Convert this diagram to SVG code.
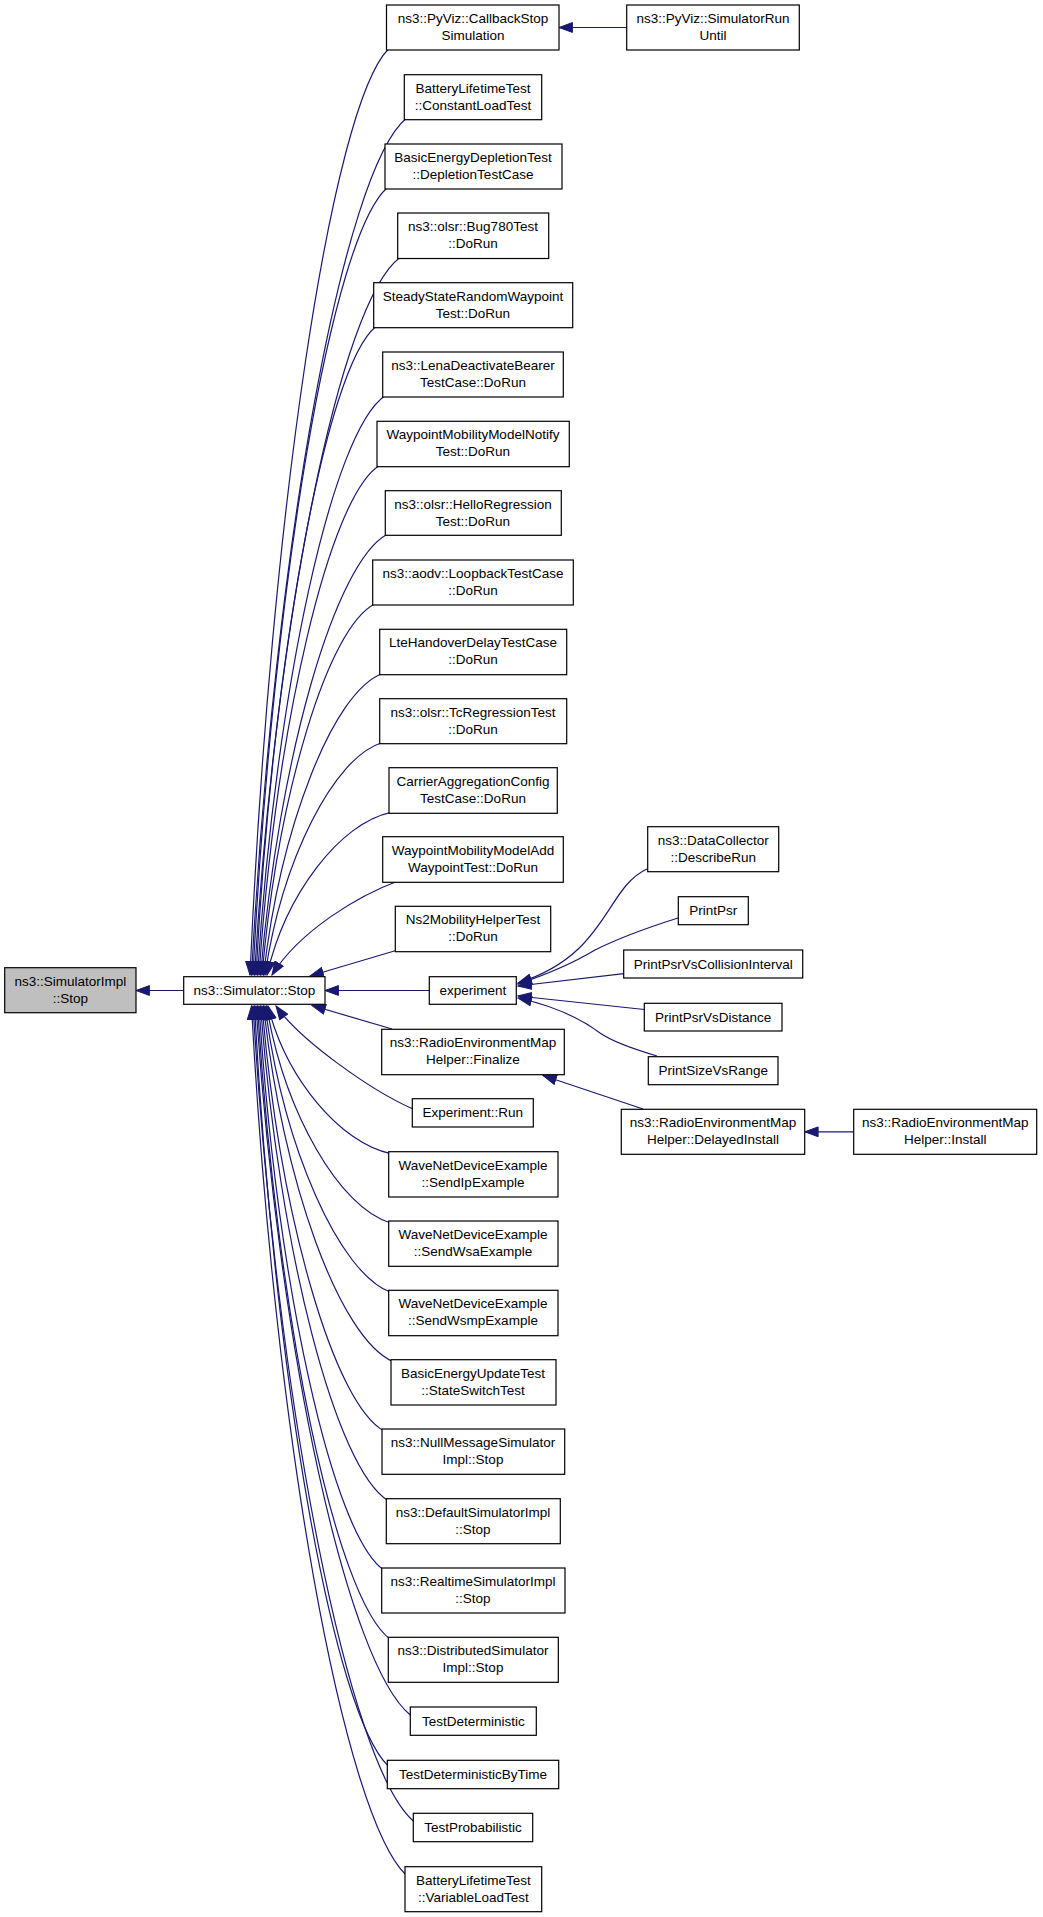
<svg xmlns="http://www.w3.org/2000/svg" width="1043" height="1917" viewBox="0 0 1043 1917">
<style>
.n rect{fill:#fff;stroke:#000;stroke-width:1.2}
.n.g rect{fill:#bfbfbf}
text{font-family:"Liberation Sans",Arial,Helvetica,sans-serif;font-size:13.5px;text-anchor:middle;fill:#000}
.e path{fill:none;stroke:#191970;stroke-width:1.2;marker-end:url(#ah)}
</style>
<defs>
<marker id="ah" markerUnits="userSpaceOnUse" markerWidth="15" markerHeight="11" viewBox="0 0 15 11" refX="14" refY="5.5" orient="auto">
<path d="M0.6,0.6 L14,5.5 L0.6,10.4 Z" fill="#191970" stroke="#191970" stroke-width="1"/>
</marker>
</defs>
<rect width="1043" height="1917" fill="#fff"/>
<g id="edges" class="e">
<path d="M183.7,990.5 L136,990.5"/>
<path d="M626.7,27.5 L559,27.5"/>
<path d="M429.3,990.5 L325,990.5"/>
<path d="M853.7,1131.8 L804.7,1131.8"/>
<path d="M643,1109 L543,1075.5"/>
<path d="M647,869 C605,888 608,955 518,983"/>
<path d="M678,918 C640,930 615,940 595,950 C570,965 545,975 518,984"/>
<path d="M623.7,973.7 L518,986"/>
<path d="M644.3,1009.5 L518,996"/>
<path d="M657,1056 C630,1048 610,1040 600,1033 C580,1018 550,1005 518,998"/>
<path d="M388.5,49 C331.9,105.5 270.5,512.5 250,975"/>
<path d="M406.3,118.3 C343.2,170.6 274.4,547.2 251.5,975"/>
<path d="M387,188 C332.2,236.2 272.8,582 253,975"/>
<path d="M399.7,257.7 C340.4,301.7 276,616.9 254.5,975"/>
<path d="M375.7,326.7 C326.6,366.5 273.7,651.4 256,975"/>
<path d="M384.7,396 C332.6,431.7 276.3,686 257.5,975"/>
<path d="M379,465.7 C329.8,497.2 276.7,720.9 259,975"/>
<path d="M387.3,534.3 C335.4,561.7 279.2,755.2 260.5,975"/>
<path d="M374.7,604 C328.4,627.2 278.6,790 262,975"/>
<path d="M381.7,673.7 C333.2,692.7 280.9,824.9 263.5,975"/>
<path d="M381.7,742.7 C333.8,757.6 282.2,859.4 265,975"/>
<path d="M391,812.3 C340.2,823 285.3,894.2 267,975"/>
<path d="M398,881 C360,895 300,930 272,975"/>
<path d="M396,950.5 L310,976"/>
<path d="M392,1029 L312,1005.5"/>
<path d="M413,1109 C370,1090 300,1040 276,1006"/>
<path d="M390.7,1153.7 C340.4,1143 286.1,1078.8 268,1006"/>
<path d="M390.7,1223 C339.8,1208.1 284.8,1113.5 266.5,1006"/>
<path d="M390.7,1292.3 C339.2,1273.2 283.6,1148.1 265,1006"/>
<path d="M393,1361.7 C340,1338.5 282.6,1182.8 263.5,1006"/>
<path d="M384,1431 C334,1403.6 280,1217.5 262,1006"/>
<path d="M388.3,1500.7 C336,1469.1 279.4,1252.3 260.5,1006"/>
<path d="M383.7,1570 C332.6,1534.3 277.4,1287 259,1006"/>
<path d="M390.3,1639.3 C336,1599.4 277.1,1321.6 257.5,1006"/>
<path d="M410.3,1715 C348.6,1664.9 279.1,1356.5 256,1006"/>
<path d="M388.3,1766 C334.2,1715 274.4,1383.1 254.5,1006"/>
<path d="M413.3,1821 C349.2,1764.9 277,1409.6 253,1006"/>
<path d="M406,1875 C343.6,1815.1 274.5,1436.3 251.5,1006"/>
</g>
<g id="n_impl" class="n g"><rect x="4.7" y="967.7" width="131.3" height="45"/><text x="70.3" y="985.7">ns3::SimulatorImpl</text><text x="70.3" y="1002.7">::Stop</text></g>
<g id="n_stop" class="n"><rect x="183.7" y="976.7" width="141.3" height="27.6"/><text x="254.4" y="995">ns3::Simulator::Stop</text></g>
<g id="k0" class="n"><rect x="386.5" y="5" width="172.5" height="45"/><text x="473" y="23">ns3::PyViz::CallbackStop</text><text x="473" y="40">Simulation</text></g>
<g id="k1" class="n"><rect x="404.3" y="74.7" width="137.4" height="45"/><text x="473" y="92.7">BatteryLifetimeTest</text><text x="473" y="109.7">::ConstantLoadTest</text></g>
<g id="k2" class="n"><rect x="385" y="144" width="177" height="45"/><text x="473" y="162">BasicEnergyDepletionTest</text><text x="473" y="179">::DepletionTestCase</text></g>
<g id="k3" class="n"><rect x="397.7" y="213" width="151" height="45.5"/><text x="473" y="231">ns3::olsr::Bug780Test</text><text x="473" y="248">::DoRun</text></g>
<g id="k4" class="n"><rect x="373.7" y="282.7" width="199" height="45"/><text x="473" y="300.7">SteadyStateRandomWaypoint</text><text x="473" y="317.7">Test::DoRun</text></g>
<g id="k5" class="n"><rect x="382.7" y="352" width="180.6" height="45"/><text x="473" y="370">ns3::LenaDeactivateBearer</text><text x="473" y="387">TestCase::DoRun</text></g>
<g id="k6" class="n"><rect x="377" y="421.3" width="192.3" height="45.4"/><text x="473" y="439.3">WaypointMobilityModelNotify</text><text x="473" y="456.3">Test::DoRun</text></g>
<g id="k7" class="n"><rect x="385.3" y="490.7" width="176" height="44.6"/><text x="473" y="508.7">ns3::olsr::HelloRegression</text><text x="473" y="525.7">Test::DoRun</text></g>
<g id="k8" class="n"><rect x="372.7" y="560" width="200.6" height="45"/><text x="473" y="578">ns3::aodv::LoopbackTestCase</text><text x="473" y="595">::DoRun</text></g>
<g id="k9" class="n"><rect x="379.7" y="629.3" width="187" height="45.4"/><text x="473" y="647.3">LteHandoverDelayTestCase</text><text x="473" y="664.3">::DoRun</text></g>
<g id="k10" class="n"><rect x="379.7" y="698.7" width="187" height="45"/><text x="473" y="716.7">ns3::olsr::TcRegressionTest</text><text x="473" y="733.7">::DoRun</text></g>
<g id="k11" class="n"><rect x="389" y="767.7" width="168.3" height="45.6"/><text x="473" y="785.7">CarrierAggregationConfig</text><text x="473" y="802.7">TestCase::DoRun</text></g>
<g id="k12" class="n"><rect x="382.7" y="836.7" width="180.6" height="45.6"/><text x="473" y="854.7">WaypointMobilityModelAdd</text><text x="473" y="871.7">WaypointTest::DoRun</text></g>
<g id="k13" class="n"><rect x="395.3" y="906.3" width="155.4" height="45.4"/><text x="473" y="924.3">Ns2MobilityHelperTest</text><text x="473" y="941.3">::DoRun</text></g>
<g id="exp" class="n"><rect x="429.3" y="976.7" width="87" height="27.6"/><text x="472.8" y="995">experiment</text></g>
<g id="fin" class="n"><rect x="381.7" y="1029.3" width="182.6" height="45.4"/><text x="473" y="1047.3">ns3::RadioEnvironmentMap</text><text x="473" y="1064.3">Helper::Finalize</text></g>
<g id="run" class="n"><rect x="412.3" y="1098.7" width="121" height="28.3"/><text x="472.8" y="1117.3">Experiment::Run</text></g>
<g id="b0" class="n"><rect x="388.7" y="1151.7" width="169.3" height="45.3"/><text x="473" y="1169.7">WaveNetDeviceExample</text><text x="473" y="1186.7">::SendIpExample</text></g>
<g id="b1" class="n"><rect x="388.7" y="1221" width="169.3" height="45.3"/><text x="473" y="1239">WaveNetDeviceExample</text><text x="473" y="1256">::SendWsaExample</text></g>
<g id="b2" class="n"><rect x="388.7" y="1290.3" width="169.3" height="45.4"/><text x="473" y="1308.3">WaveNetDeviceExample</text><text x="473" y="1325.3">::SendWsmpExample</text></g>
<g id="b3" class="n"><rect x="391" y="1359.7" width="165" height="45.3"/><text x="473" y="1377.7">BasicEnergyUpdateTest</text><text x="473" y="1394.7">::StateSwitchTest</text></g>
<g id="b4" class="n"><rect x="382" y="1429" width="182.7" height="45.3"/><text x="473" y="1447">ns3::NullMessageSimulator</text><text x="473" y="1464">Impl::Stop</text></g>
<g id="b5" class="n"><rect x="386.3" y="1498.7" width="174" height="45"/><text x="473" y="1516.7">ns3::DefaultSimulatorImpl</text><text x="473" y="1533.7">::Stop</text></g>
<g id="b6" class="n"><rect x="381.7" y="1568" width="183.3" height="45"/><text x="473" y="1586">ns3::RealtimeSimulatorImpl</text><text x="473" y="1603">::Stop</text></g>
<g id="b7" class="n"><rect x="388.3" y="1637.3" width="170" height="45"/><text x="473" y="1655.3">ns3::DistributedSimulator</text><text x="473" y="1672.3">Impl::Stop</text></g>
<g id="b8" class="n"><rect x="410.3" y="1707" width="126" height="28.3"/><text x="473.3" y="1725.6">TestDeterministic</text></g>
<g id="b9" class="n"><rect x="387.3" y="1760.3" width="171.4" height="28.4"/><text x="473" y="1779">TestDeterministicByTime</text></g>
<g id="b10" class="n"><rect x="413.3" y="1813.3" width="119.4" height="28.4"/><text x="473" y="1832">TestProbabilistic</text></g>
<g id="b11" class="n"><rect x="405" y="1866.7" width="136.7" height="45"/><text x="473.3" y="1884.7">BatteryLifetimeTest</text><text x="473.3" y="1901.7">::VariableLoadTest</text></g>
<g id="r0" class="n"><rect x="626.7" y="5" width="172.6" height="45"/><text x="713" y="23">ns3::PyViz::SimulatorRun</text><text x="713" y="40">Until</text></g>
<g id="r1" class="n"><rect x="647.7" y="826.7" width="131" height="45"/><text x="713.2" y="844.7">ns3::DataCollector</text><text x="713.2" y="861.7">::DescribeRun</text></g>
<g id="r2" class="n"><rect x="678.3" y="896.7" width="70" height="28"/><text x="713.3" y="915.2">PrintPsr</text></g>
<g id="r3" class="n"><rect x="623.7" y="950" width="179" height="28"/><text x="713.2" y="968.5">PrintPsrVsCollisionInterval</text></g>
<g id="r4" class="n"><rect x="644.3" y="1003.3" width="137.7" height="27.7"/><text x="713.2" y="1021.7">PrintPsrVsDistance</text></g>
<g id="r5" class="n"><rect x="648.3" y="1056.7" width="129.7" height="28"/><text x="713.2" y="1075.2">PrintSizeVsRange</text></g>
<g id="r6" class="n"><rect x="621.3" y="1109.3" width="183.4" height="45"/><text x="713" y="1127.3">ns3::RadioEnvironmentMap</text><text x="713" y="1144.3">Helper::DelayedInstall</text></g>
<g id="r7" class="n"><rect x="853.7" y="1109.3" width="183" height="45"/><text x="945.2" y="1127.3">ns3::RadioEnvironmentMap</text><text x="945.2" y="1144.3">Helper::Install</text></g>
</svg>
